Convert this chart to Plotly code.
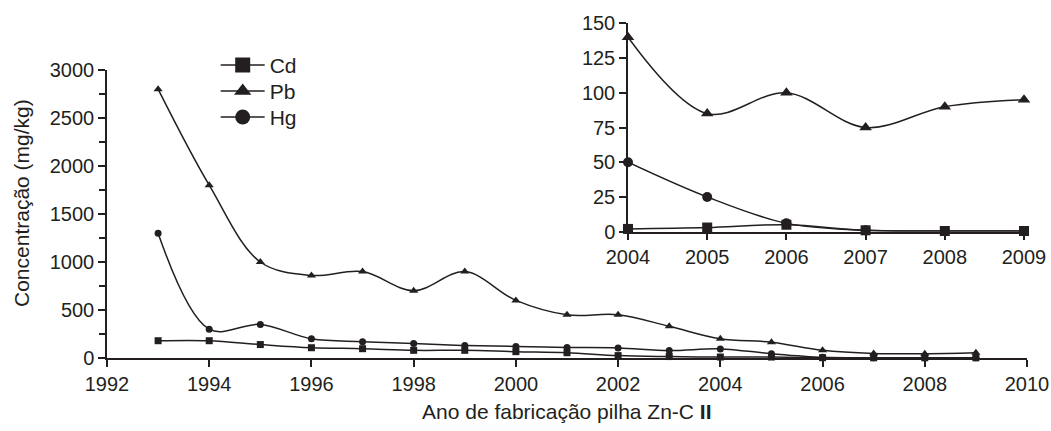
import plotly.graph_objects as go

# main chart data
years = list(range(1993, 2010))
cd = [180, 180, 140, 107, 97, 80, 80, 66, 55, 25, 15, 10, 10, 3, 2, 2, 2]
pb = [2800, 1800, 1000, 860, 900, 700, 900, 600, 450, 450, 330, 200, 165, 80, 48, 45, 55]
hg = [1300, 300, 350, 200, 170, 150, 130, 120, 110, 105, 78, 95, 45, 8, 3, 2, 2]

# inset data
years_in = [2004, 2005, 2006, 2007, 2008, 2009]
cd_in = [2, 3, 5, 1, 0.5, 0.5]
pb_in = [140, 85, 100, 75, 90, 95]
hg_in = [50, 25, 6, 1, 0.5, 0.5]

series = [("Cd", "square", cd, cd_in, 7),
          ("Pb", "triangle-up", pb, pb_in, 8),
          ("Hg", "circle", hg, hg_in, 7)]

FONT = "Liberation Sans, Arial, sans-serif"
INK = "#231f20"
LEG_FONT = 21

# figure fills the whole window (body margin removed below)
W, H = 1051, 431
L, R, T, B = 107, 1051 - 1027, 20, 431 - 358
pw, ph = W - L - R, H - T - B


def px_x(sx):
    return (sx - L) / pw


def px_y(sy):
    return (H - B - sy) / ph


fig = go.Figure()

legend_rows = [65, 91, 117]
legend_names = ["legend", "legend2", "legend3"]

for i, (name, sym, main_vals, in_vals, ms) in enumerate(series):
    fig.add_trace(go.Scatter(
        x=years, y=main_vals, mode="lines+markers", name=name,
        line=dict(color=INK, width=1.5, shape="spline", smoothing=1),
        marker=dict(symbol=sym, size=ms, color=INK),
        showlegend=False, cliponaxis=False))
    fig.add_trace(go.Scatter(
        x=years_in, y=in_vals, mode="lines+markers", name=name,
        xaxis="x2", yaxis="y2",
        line=dict(color=INK, width=1.5, shape="spline", smoothing=1),
        marker=dict(symbol=sym, size=ms + 3, color=INK),
        showlegend=False, cliponaxis=False))
    # legend-only entry with the larger symbol, one legend per row
    fig.add_trace(go.Scatter(
        x=[None], y=[None], mode="lines+markers", name=name,
        legend=legend_names[i],
        line=dict(color=INK, width=1.5),
        marker=dict(symbol=sym, size=15, color=INK)))

axis_common = dict(showline=True, linecolor=INK, linewidth=1.5,
                   ticks="outside", tickcolor=INK, tickwidth=1.5, ticklen=7,
                   showgrid=False, zeroline=False, automargin=False,
                   tickfont=dict(family=FONT, size=20, color=INK))

# plotly puts the first legend row (h/2 + 5) below the legend top
row_h = LEG_FONT * 1.3 + 3
legends = {}
for lname, cy in zip(legend_names, legend_rows):
    legends[lname] = dict(x=px_x(215.7), y=px_y(cy - row_h / 2 - 5),
                          xanchor="left", yanchor="top", itemwidth=44,
                          bgcolor="rgba(0,0,0,0)",
                          font=dict(family=FONT, size=LEG_FONT, color=INK))

fig.update_layout(
    width=W, height=H,
    margin=dict(l=L, r=R, t=T, b=B, autoexpand=False),
    plot_bgcolor="white", paper_bgcolor="white",
    font=dict(family=FONT, color=INK),
    xaxis=dict(range=[1992, 2010], dtick=2, domain=[0, 1], anchor="y",
               **axis_common),
    yaxis=dict(range=[0, 3000], dtick=500, domain=[0, px_y(70)], anchor="x",
               minor=dict(ticks="outside", dtick=250, ticklen=6,
                          tickcolor=INK, tickwidth=1.5),
               **axis_common),
    xaxis2=dict(range=[2004, 2009], dtick=1, domain=[px_x(628), px_x(1024)],
                anchor="y2", **axis_common),
    yaxis2=dict(range=[0, 150], dtick=25, domain=[px_y(231.7), px_y(23.3)],
                anchor="x2", **axis_common),
    annotations=[
        dict(text="Ano de fabricação pilha Zn-C <b>II</b>", xref="paper", yref="paper",
             x=px_x(567), y=px_y(411), xanchor="center", yanchor="middle",
             showarrow=False, font=dict(family=FONT, size=21, color=INK)),
        dict(text="Concentração (mg/kg)", xref="paper", yref="paper",
             x=px_x(21), y=px_y(203), xanchor="center", yanchor="middle",
             showarrow=False, textangle=-90,
             font=dict(family=FONT, size=21, color=INK)),
    ],
    **legends,
)

fig.write_html("out.html",
               config={"displayModeBar": False},
               post_script="document.body.style.margin='0';"
                           "document.body.style.overflow='hidden';")
